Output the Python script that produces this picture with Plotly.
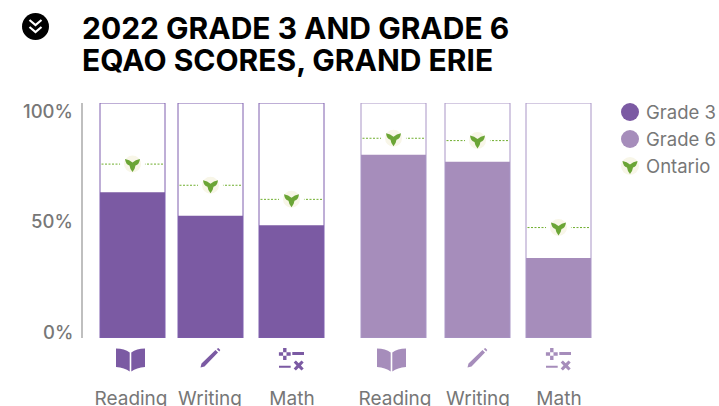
import plotly.graph_objects as go

# ---- data ----
categories = ["Reading", "Writing", "Math"]
grade3 = [62, 52, 48]
grade6 = [78, 75, 34]
ontario3 = [74, 65, 59]
ontario6 = [85, 84, 47]
y_ticks = [0, 50, 100]
y_tick_labels = ["0%", "50%", "100%"]
title_lines = ["2022 GRADE 3 AND GRADE 6", "EQAO SCORES, GRAND ERIE"]
source_lines = ["Source: Grand Erie District", "School Board"]
legend_labels = ["Grade 3", "Grade 6", "Ontario"]

# ---- layout / style constants ----
W, H = 719, 406
C3_SLOTS = [132.5, 210.5, 291.5]
C6_SLOTS = [393.5, 477.5, 558.5]
LABEL_SLOTS = [131, 210, 292, 395, 478, 559]
BAR_W = 65
PLOT_TOP, PLOT_BOTTOM = 103, 338
DARK, LIGHT = "#7B5AA3", "#A68DBB"
DARK_EDGE, LIGHT_EDGE = "#7F5FAE", "#A995C6"
GREEN, CREAM = "#6BA536", "#F8F6E8"
GREY = "#777777"
FONT = "Inter"

fig = go.Figure()


def add_group(slots, vals, color, edge, name):
    fig.add_bar(x=slots, y=vals, width=BAR_W, marker=dict(color=color, line_width=0),
                name=name, showlegend=False)
    fig.add_bar(x=slots, y=[100] * len(slots), width=BAR_W,
                marker=dict(color="rgba(0,0,0,0)", line=dict(color=edge, width=1)),
                showlegend=False, hoverinfo="skip")


add_group(C3_SLOTS, grade3, DARK, DARK_EDGE, "Grade 3")
add_group(C6_SLOTS, grade6, LIGHT, LIGHT_EDGE, "Grade 6")

slots = C3_SLOTS + C6_SLOTS
ontario = ontario3 + ontario6

dx, dy = [], []
for s, v in zip(slots, ontario):
    dx += [s - 31, s + 31, None]
    dy += [v, v, None]
fig.add_scatter(x=dx, y=dy, mode="lines", line=dict(color="#6FAE2E", width=1, dash="2px,1.5px"),
                showlegend=False, hoverinfo="skip")
fig.add_scatter(x=slots, y=ontario, mode="markers", name="Ontario", showlegend=False,
                marker=dict(size=21, color=CREAM, line=dict(color="white", width=4)))

shapes = []


def ypath(cmds):
    """cmds use y-down pixels relative to the anchor; flips them for pixel-sized shapes."""
    out = []
    for c in cmds:
        if isinstance(c, str):
            out.append(c)
        else:
            out.append(f"{c[0]},{-c[1]}")
    return " ".join(out)


TRILLIUM = ypath(["M", (-7.5, -5), "Q", (-3, -4.5), (0, -1.5), "Q", (3, -4.5), (7.5, -5),
                  "Q", (6.8, 0.5), (3, 1.5), "Q", (2.6, 5), (0, 8), "Q", (-2.6, 5), (-3, 1.5),
                  "Q", (-6.8, 0.5), (-7.5, -5), "Z"])
BOOK = ypath(["M", (-14.5, -11), "Q", (-6, -11), (-0.8, -7), "L", (-0.8, 12), "Q", (-6, 8), (-14.5, 7.5), "Z",
              "M", (14.5, -11), "Q", (6, -11), (0.8, -7), "L", (0.8, 12), "Q", (6, 8), (14.5, 7.5), "Z"])
PENCIL = ypath(["M", (-10, 9.5), "L", (-9, 5.5), "L", (5, -8), "L", (7.5, -5.5), "L", (-6, 8.5), "Z",
                "M", (6.2, -9), "L", (7.8, -10), "L", (9.8, -8), "L", (8.8, -6.5), "Z"])


def rect(x0, y0, x1, y1):
    return f"M {x0},{-y0} L {x1},{-y0} L {x1},{-y1} L {x0},{-y1} Z "


def circ(cx, cy, r):
    y = -cy
    return (f"M {cx-r},{y} A {r},{r} 0 1 1 {cx+r},{y} A {r},{r} 0 1 1 {cx-r},{y} Z ")


MATH = (rect(-12.6, -6.7, -0.8, -3.3) + rect(-8.4, -11, -5, 1) + rect(0.8, -7, 12.5, -4)
        + rect(-12.5, 6.7, -0.8, 8.7) + circ(-6.7, 3.2, 1.7) + circ(-6.7, 11, 1.7)
        + ypath(["M", (2.2, 3.6), "L", (4.4, 1.4), "L", (7.2, 4.2), "L", (10, 1.4), "L", (12.2, 3.6), "L", (9.4, 6.5),
                 "L", (12.2, 9.4), "L", (10, 11.6), "L", (7.2, 8.8), "L", (4.4, 11.6), "L", (2.2, 9.4), "L", (5, 6.5), "Z"]))


def pix(px):
    """row in the 406-high picture -> paper fraction"""
    return (H - px) / H


def pixel_shape(path, x, y, color, xref="x", yref="y"):
    return dict(type="path", path=path, xsizemode="pixel", ysizemode="pixel", xanchor=x, yanchor=y,
                xref=xref, yref=yref, fillcolor=color, line_width=0, layer="above")


for s, v in zip(slots, ontario):
    shapes.append(pixel_shape(TRILLIUM, s, v, GREEN))

for group, col in ((C3_SLOTS, DARK), (C6_SLOTS, LIGHT)):
    for s, path, off, yc in zip(group, (BOOK, PENCIL, MATH), (-2, 0, 0), (359.5, 358, 359)):
        shapes.append(pixel_shape(path, s + off, pix(yc), col, yref="paper"))

# badge
shapes.append(dict(type="circle", xref="x", yref="paper", x0=22, x1=49,
                   y0=pix(40), y1=pix(13), fillcolor="black", line_width=0))
for yc in (23, 30):
    shapes.append(dict(type="path", xsizemode="pixel", ysizemode="pixel", xanchor=35.5, yanchor=pix(yc),
                       xref="x", yref="paper", line=dict(color="white", width=2.2), fillcolor="rgba(0,0,0,0)",
                       path=ypath(["M", (-6, -3), "L", (0, 2), "L", (6, -3)])))

# legend
for yc, col in ((112, DARK), (139, LIGHT), (166, CREAM)):
    shapes.append(dict(type="circle", xref="x", yref="paper", x0=621, x1=639,
                       y0=pix(yc + 9), y1=pix(yc - 9), fillcolor=col, line_width=0))
shapes.append(pixel_shape(TRILLIUM, 630, pix(166), GREEN, yref="paper"))

# y-axis rule
shapes.append(dict(type="line", xref="x", yref="y", x0=82, x1=82, y0=0, y1=100,
                   line=dict(color="#AAAAAA", width=1.5)))

ann = []
for v, lab, shift in zip(y_ticks, y_tick_labels, (6, 0, -8)):
    ann.append(dict(x=75, y=v, xref="x", yref="y", yshift=shift, text=lab, showarrow=False, xanchor="right",
                    yanchor="middle", font=dict(family=FONT, size=18.5, color=GREY, weight=500)))
for txt, yc in zip(title_lines, (28, 60)):
    ann.append(dict(x=80, y=pix(yc), xref="x", yref="paper", text=txt, showarrow=False, xanchor="left",
                    yanchor="middle", font=dict(family=FONT, size=30, color="black", weight=700)))
for txt, yc in zip(source_lines, (18, 37)):
    ann.append(dict(x=721, y=pix(yc), xref="x", yref="paper", text=txt, showarrow=False, xanchor="right",
                    yanchor="middle", font=dict(family=FONT, size=13, color="#888888")))
for txt, yc in zip(legend_labels, (112, 139, 166)):
    ann.append(dict(x=644, y=pix(yc), xref="x", yref="paper", text=txt, showarrow=False, xanchor="left",
                    yanchor="middle", font=dict(family=FONT, size=18.5, color=GREY)))

fig.update_layout(
    width=W, height=H, margin=dict(l=0, r=0, t=0, b=0), barmode="overlay",
    plot_bgcolor="white", paper_bgcolor="white", showlegend=False, shapes=shapes, annotations=ann,
    xaxis=dict(domain=[0, 1], range=[0, W], showgrid=False, zeroline=False, showline=False,
               tickmode="array", tickvals=LABEL_SLOTS, ticktext=categories * 2, ticks="", ticklabelstandoff=47,
               tickfont=dict(family=FONT, size=19, color=GREY), anchor="y", automargin=False),
    yaxis=dict(domain=[(H - PLOT_BOTTOM) / H, (H - PLOT_TOP) / H], range=[0, 100], showgrid=False,
               zeroline=False, showline=False, showticklabels=False, ticks=""),
)

fig.write_html("out.html", config=dict(displayModeBar=False),
               post_script="document.body.style.margin='0';document.body.style.overflow='hidden';")
